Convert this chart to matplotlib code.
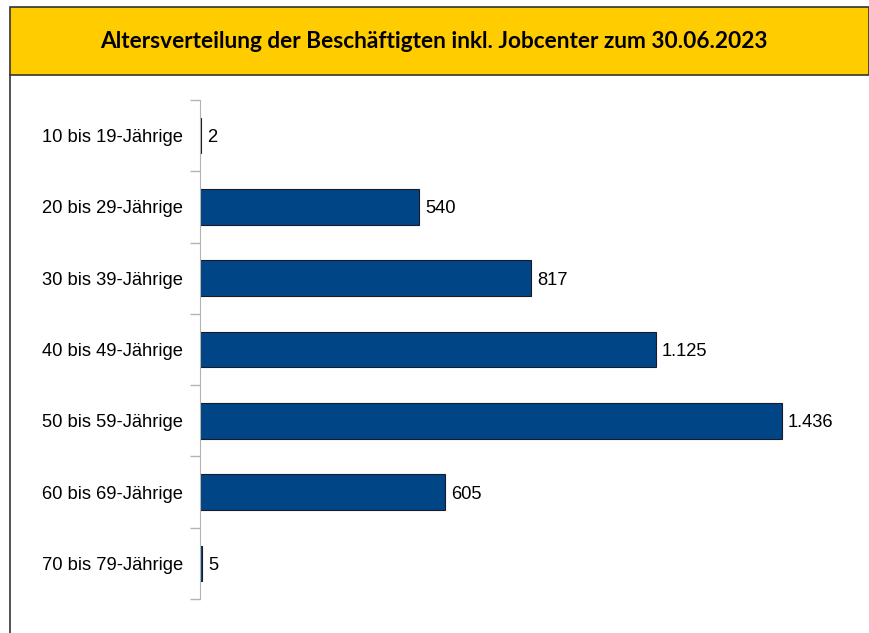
import numpy as np
import matplotlib.pyplot as plt
from matplotlib.patches import Rectangle
from matplotlib.lines import Line2D

# Data
categories = ['10 bis 19-Jährige', '20 bis 29-Jährige', '30 bis 39-Jährige',
              '40 bis 49-Jährige', '50 bis 59-Jährige', '60 bis 69-Jährige',
              '70 bis 79-Jährige']
values = [2, 540, 817, 1125, 1436, 605, 5]
value_labels = ['2', '540', '817', '1.125', '1.436', '605', '5']
title = 'Altersverteilung der Beschäftigten inkl. Jobcenter zum 30.06.2023'

W, H = 869, 633
fig = plt.figure(figsize=(W/100, H/100), dpi=100)

# title band
fig.patches.append(Rectangle((10/W, 1-75/H), (W-10)/W, 68/H, transform=fig.transFigure,
                             facecolor='#FFCC00', edgecolor='#333333', linewidth=1.2))
fig.lines.append(Line2D([10/W, 10/W], [0, 1-75/H], transform=fig.transFigure,
                        color='#333333', linewidth=1.2))
fig.text(434/W, 1-42/H, title, ha='center', va='center',
         fontsize=16.3, fontweight='bold', family='Lato')

# plot area
xmax = 1600
px_per_unit = 582/1436
ax = fig.add_axes([200/W, 1-599/H, xmax*px_per_unit/W, 499/H])
y = np.arange(len(categories))
ax.barh(y, values, height=0.5, color='#004586', edgecolor='#1a1a2a', linewidth=0.8)
ax.set_ylim(len(categories)-0.5, -0.5)
ax.set_xlim(0, xmax)

for yi, v, lab in zip(y, values, value_labels):
    ax.text(v + 6/px_per_unit, yi, lab, va='center_baseline', ha='left',
            fontsize=13.2, family='Liberation Sans')

for s in ['top', 'right', 'bottom']:
    ax.spines[s].set_visible(False)
ax.spines['left'].set_color('#b3b3b3')
ax.set_xticks([])
ax.set_yticks(y)
ax.set_yticklabels(categories, fontsize=13.2, family='Liberation Sans',
                   va='center_baseline')
ax.set_yticks(np.arange(-0.5, len(categories)), minor=True)
ax.tick_params(axis='y', which='major', length=0, pad=12)
ax.tick_params(axis='y', which='minor', length=7.5, color='#b3b3b3', width=1)

plt.savefig('out.png', dpi=100)
